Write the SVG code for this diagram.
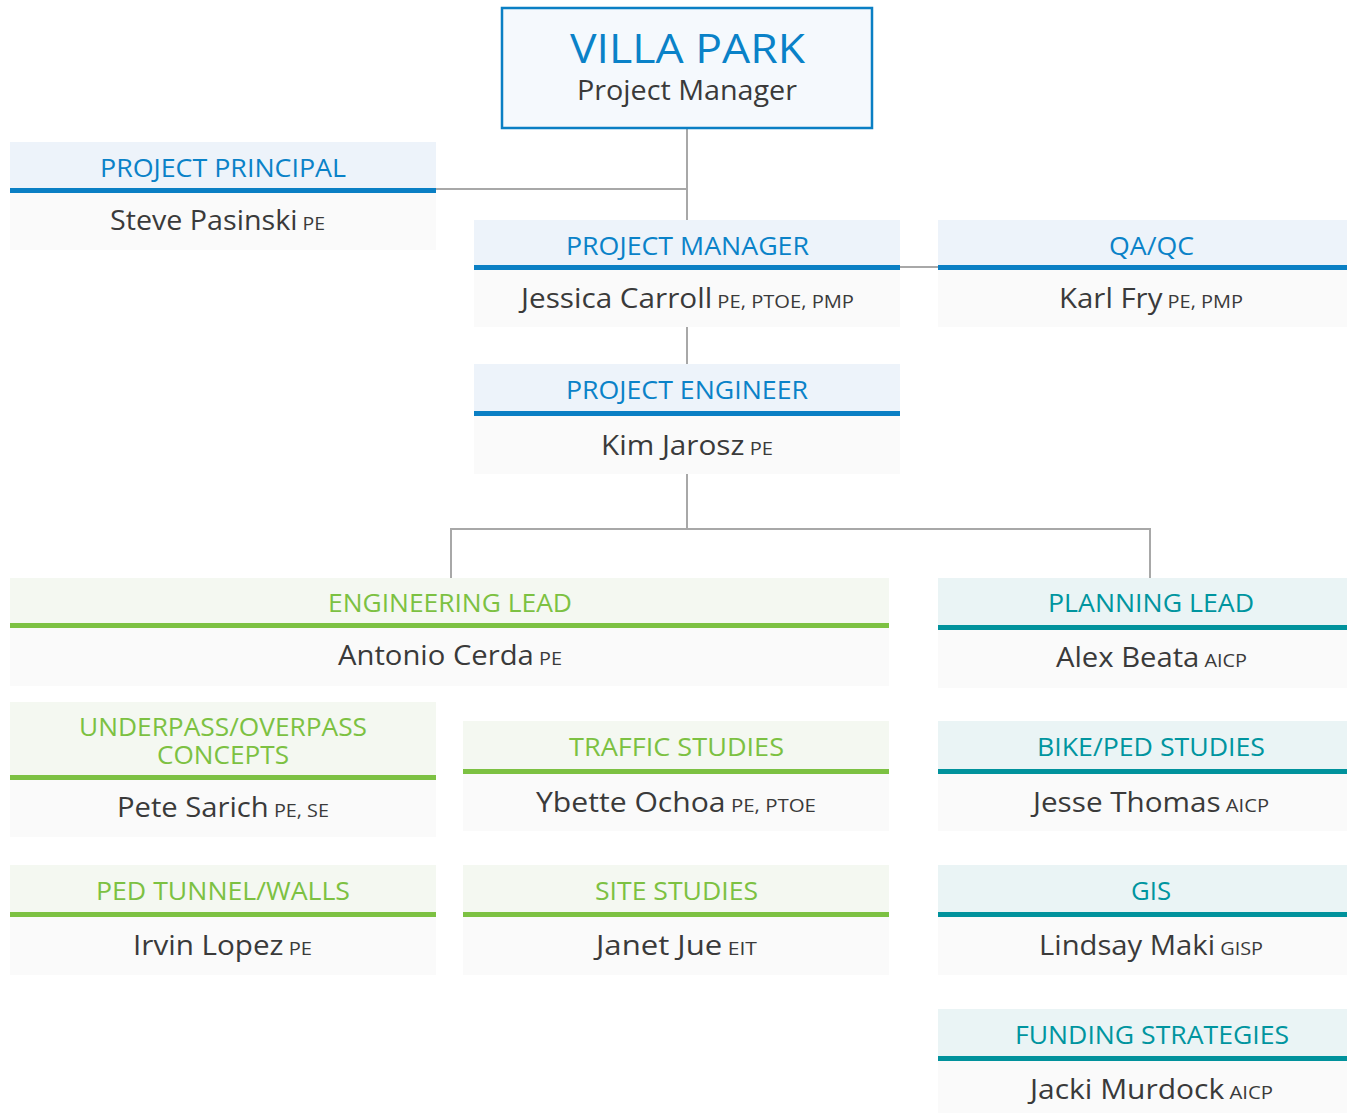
<svg xmlns="http://www.w3.org/2000/svg" width="1347" height="1113" viewBox="0 0 1347 1113">
<style>
text{font-family:"Open Sans","Noto Sans","DejaVu Sans",sans-serif}
.hb{fill:#edf3fa}.hg{fill:#f4f8f1}.ht{fill:#eaf4f5}
.body{fill:#fafafa}
.lb{fill:#0a7fc4}.lg{fill:#7cc142}.lt{fill:#00929c}
.tb{fill:#0a82c8;font-size:26px}.tg{fill:#7cc142;font-size:26px}.tt{fill:#00959f;font-size:26px}
.nm{fill:#3a3a3a;font-size:28px}
.sx{font-size:19px}
.con{stroke:#a8a8a8;stroke-width:2;fill:none}
</style>
<rect width="1347" height="1113" fill="#ffffff"/>
<g id="connectors">
<path class="con" d="M687 128V220"/>
<path class="con" d="M436 189H687"/>
<path class="con" d="M900 267H938"/>
<path class="con" d="M687 327V364"/>
<path class="con" d="M687 474V529M451 578V529H1150V578"/>
</g>
<g id="villa-park">
<rect x="502" y="8" width="370" height="120" fill="#f5f9fd" stroke="#0a7fc4" stroke-width="2.5"/>
<text x="570" y="63" font-size="40" fill="#0a82c8" textLength="235" lengthAdjust="spacingAndGlyphs">VILLA PARK</text>
<text x="577" y="100" font-size="28" fill="#3a3a3a" textLength="220" lengthAdjust="spacingAndGlyphs">Project Manager</text>
</g>
<g id="project-principal">
<rect class="hb" x="10" y="142" width="426" height="46"/>
<rect class="lb" x="10" y="188" width="426" height="5"/>
<rect class="body" x="10" y="193" width="426" height="57"/>
<text class="tb" x="100" y="177" textLength="246" lengthAdjust="spacingAndGlyphs">PROJECT PRINCIPAL</text>
<text class="nm" x="110" y="230" textLength="215" lengthAdjust="spacingAndGlyphs">Steve Pasinski<tspan class="sx"> PE</tspan></text>
</g>
<g id="project-manager">
<rect class="hb" x="474" y="220" width="426" height="45"/>
<rect class="lb" x="474" y="265" width="426" height="5"/>
<rect class="body" x="474" y="270" width="426" height="57"/>
<text class="tb" x="566" y="255" textLength="243" lengthAdjust="spacingAndGlyphs">PROJECT MANAGER</text>
<text class="nm" x="521" y="308" textLength="333" lengthAdjust="spacingAndGlyphs">Jessica Carroll<tspan class="sx"> PE, PTOE, PMP</tspan></text>
</g>
<g id="qa-qc">
<rect class="hb" x="938" y="220" width="409" height="45"/>
<rect class="lb" x="938" y="265" width="409" height="5"/>
<rect class="body" x="938" y="270" width="409" height="57"/>
<text class="tb" x="1109" y="255" textLength="85" lengthAdjust="spacingAndGlyphs">QA/QC</text>
<text class="nm" x="1059" y="308" textLength="184" lengthAdjust="spacingAndGlyphs">Karl Fry<tspan class="sx"> PE, PMP</tspan></text>
</g>
<g id="project-engineer">
<rect class="hb" x="474" y="364" width="426" height="47"/>
<rect class="lb" x="474" y="411" width="426" height="5"/>
<rect class="body" x="474" y="416" width="426" height="58"/>
<text class="tb" x="566" y="399" textLength="242" lengthAdjust="spacingAndGlyphs">PROJECT ENGINEER</text>
<text class="nm" x="601" y="455" textLength="172" lengthAdjust="spacingAndGlyphs">Kim Jarosz<tspan class="sx"> PE</tspan></text>
</g>
<g id="engineering-lead">
<rect class="hg" x="10" y="578" width="879" height="45"/>
<rect class="lg" x="10" y="623" width="879" height="5"/>
<rect class="body" x="10" y="628" width="879" height="58"/>
<text class="tg" x="328" y="612" textLength="244" lengthAdjust="spacingAndGlyphs">ENGINEERING LEAD</text>
<text class="nm" x="338" y="665" textLength="224" lengthAdjust="spacingAndGlyphs">Antonio Cerda<tspan class="sx"> PE</tspan></text>
</g>
<g id="planning-lead">
<rect class="ht" x="938" y="578" width="409" height="47"/>
<rect class="lt" x="938" y="625" width="409" height="5"/>
<rect class="body" x="938" y="630" width="409" height="58"/>
<text class="tt" x="1048" y="612" textLength="206" lengthAdjust="spacingAndGlyphs">PLANNING LEAD</text>
<text class="nm" x="1056" y="667" textLength="191" lengthAdjust="spacingAndGlyphs">Alex Beata<tspan class="sx"> AICP</tspan></text>
</g>
<g id="underpass-overpass">
<rect class="hg" x="10" y="702" width="426" height="73"/>
<rect class="lg" x="10" y="775" width="426" height="5"/>
<rect class="body" x="10" y="780" width="426" height="57"/>
<text class="tg" x="79" y="736" textLength="288" lengthAdjust="spacingAndGlyphs">UNDERPASS/OVERPASS</text>
<text class="tg" x="157" y="764" textLength="132" lengthAdjust="spacingAndGlyphs">CONCEPTS</text>
<text class="nm" x="117" y="817" textLength="212" lengthAdjust="spacingAndGlyphs">Pete Sarich<tspan class="sx"> PE, SE</tspan></text>
</g>
<g id="traffic-studies">
<rect class="hg" x="463" y="721" width="426" height="48"/>
<rect class="lg" x="463" y="769" width="426" height="5"/>
<rect class="body" x="463" y="774" width="426" height="57"/>
<text class="tg" x="569" y="756" textLength="215" lengthAdjust="spacingAndGlyphs">TRAFFIC STUDIES</text>
<text class="nm" x="536" y="812" textLength="280" lengthAdjust="spacingAndGlyphs">Ybette Ochoa<tspan class="sx"> PE, PTOE</tspan></text>
</g>
<g id="bike-ped-studies">
<rect class="ht" x="938" y="721" width="409" height="48"/>
<rect class="lt" x="938" y="769" width="409" height="5"/>
<rect class="body" x="938" y="774" width="409" height="57"/>
<text class="tt" x="1037" y="756" textLength="228" lengthAdjust="spacingAndGlyphs">BIKE/PED STUDIES</text>
<text class="nm" x="1033" y="812" textLength="236" lengthAdjust="spacingAndGlyphs">Jesse Thomas<tspan class="sx"> AICP</tspan></text>
</g>
<g id="ped-tunnel-walls">
<rect class="hg" x="10" y="865" width="426" height="47"/>
<rect class="lg" x="10" y="912" width="426" height="5"/>
<rect class="body" x="10" y="917" width="426" height="58"/>
<text class="tg" x="96" y="900" textLength="254" lengthAdjust="spacingAndGlyphs">PED TUNNEL/WALLS</text>
<text class="nm" x="133" y="955" textLength="179" lengthAdjust="spacingAndGlyphs">Irvin Lopez<tspan class="sx"> PE</tspan></text>
</g>
<g id="site-studies">
<rect class="hg" x="463" y="865" width="426" height="47"/>
<rect class="lg" x="463" y="912" width="426" height="5"/>
<rect class="body" x="463" y="917" width="426" height="58"/>
<text class="tg" x="595" y="900" textLength="163" lengthAdjust="spacingAndGlyphs">SITE STUDIES</text>
<text class="nm" x="596" y="955" textLength="161" lengthAdjust="spacingAndGlyphs">Janet Jue<tspan class="sx"> EIT</tspan></text>
</g>
<g id="gis">
<rect class="ht" x="938" y="865" width="409" height="47"/>
<rect class="lt" x="938" y="912" width="409" height="5"/>
<rect class="body" x="938" y="917" width="409" height="58"/>
<text class="tt" x="1131" y="900" textLength="40" lengthAdjust="spacingAndGlyphs">GIS</text>
<text class="nm" x="1039" y="955" textLength="224" lengthAdjust="spacingAndGlyphs">Lindsay Maki<tspan class="sx"> GISP</tspan></text>
</g>
<g id="funding-strategies">
<rect class="ht" x="938" y="1009" width="409" height="47"/>
<rect class="lt" x="938" y="1056" width="409" height="5"/>
<rect class="body" x="938" y="1061" width="409" height="52"/>
<text class="tt" x="1015" y="1044" textLength="274" lengthAdjust="spacingAndGlyphs">FUNDING STRATEGIES</text>
<text class="nm" x="1030" y="1099" textLength="243" lengthAdjust="spacingAndGlyphs">Jacki Murdock<tspan class="sx"> AICP</tspan></text>
</g>
</svg>
